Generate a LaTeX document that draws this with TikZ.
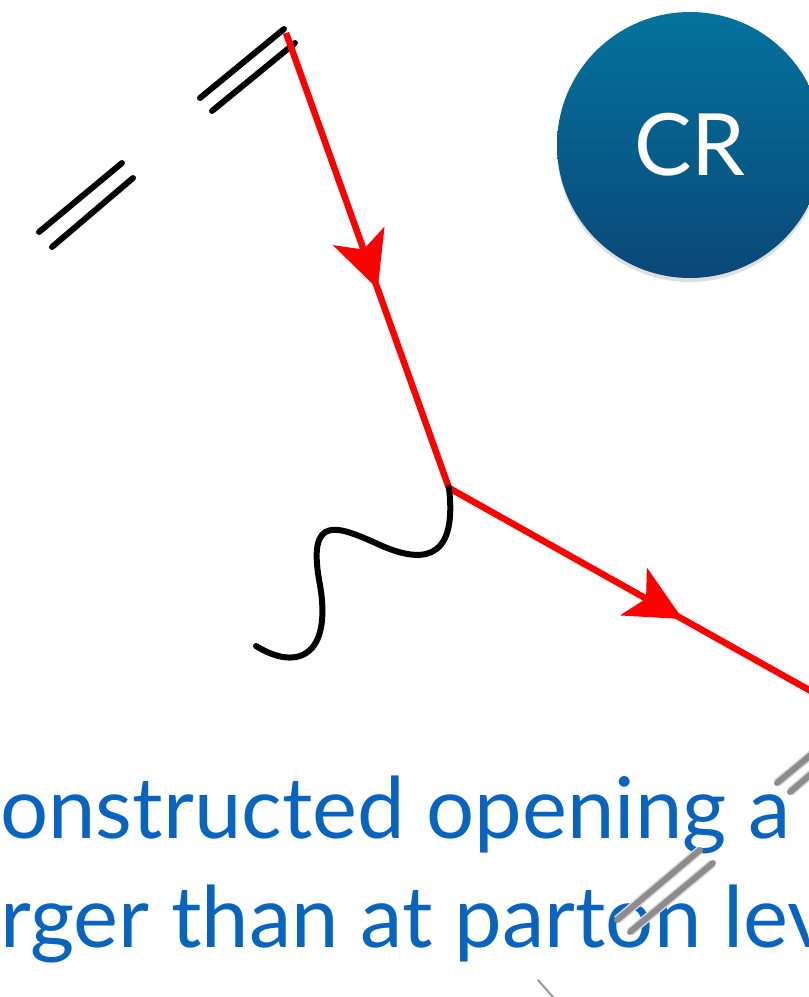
\documentclass[tikz,border=0pt]{standalone}
\usepackage{fontspec}
\setmainfont{Lato}
\usepackage{tikz}
\usetikzlibrary{calc, arrows.meta, decorations.markings, shadows}
\usepackage{tkz-euclide}
\definecolor{capBlue}{RGB}{9,100,192}
\definecolor{crTop}{RGB}{4,114,156}
\definecolor{crBot}{RGB}{10,72,120}
\tikzset{
  bond/.style={line width=6pt, line cap=round, black},
  fadebond/.style={line width=6pt, line cap=round, black!45,
    preaction={draw, line width=9pt, black!15}},
  fermion/.style={red, line width=6.5pt, postaction={decorate}},
  photon/.style={black, line width=6pt, line cap=round},
}
\begin{document}
\begin{tikzpicture}[x=1pt, y=-1pt]
                \useasboundingbox (0,0) rectangle (809,997);
                \clip (0,0) rectangle (809,997);
                \tkzDefPoints{39/232/A1, 122/163/A2, 52/247/B1, 133/178/B2,
                  200/98/C1, 284/29/C2, 212/111/D1, 295/43/D2}
                \tkzDefPoints{286/33/Q, 449/488/V, 818/695/E, 256/646/G}
                \tkzDrawSegments[bond](A1,A2 B1,B2 C1,C2 D1,D2)
                % quark line with mid arrows
                \draw[fermion, decoration={markings, mark=at position 272pt with
                  {\arrow{Stealth[length=56pt, width=54pt, inset=14pt]}}}] (Q) -- (V);
                \draw[fermion, decoration={markings, mark=at position 268pt with
                  {\arrow{Stealth[length=56pt, width=54pt, inset=14pt]}}}] (V) -- (E);
                \draw[photon] (V) .. controls (458,565) and (418,562) .. (380,545)
                  .. controls (338,526) and (306,512) .. (320,585)
                  .. controls (332,655) and (298,672) .. (G);
                \node[circle, minimum size=266pt, top color=crTop, bottom color=crBot,
                  drop shadow={opacity=0.25, shadow xshift=0pt, shadow yshift=-4pt}]
                  (cr) at (690,145) {};
                \node[text=white, font=\fontsize{86}{86}\selectfont] at (cr.center) {CR};
                \node[anchor=base west, inner sep=0pt, text=capBlue,
                  font=\fontsize{85}{85}\selectfont] (l1) at (0,838) {onstructed opening a};
                \node[anchor=base west, inner sep=0pt, text=capBlue,
                  font=\fontsize{85}{85}\selectfont] (l2) at (0,947) {rger than at parton lev};
                \tkzDefPoints{617/920/F1, 700/850/F2, 630/932/H1, 713/863/H2,
                  777/783/J1, 830/739/J2, 790/792/K1, 830/758/K2, 538/980/M1, 553/997/M2}
                \tkzDrawSegments[fadebond](F1,F2 H1,H2 J1,J2 K1,K2)
                \tkzDrawSegments[black!40, line width=2pt](M1,M2)
            \end{tikzpicture}
\end{document}
